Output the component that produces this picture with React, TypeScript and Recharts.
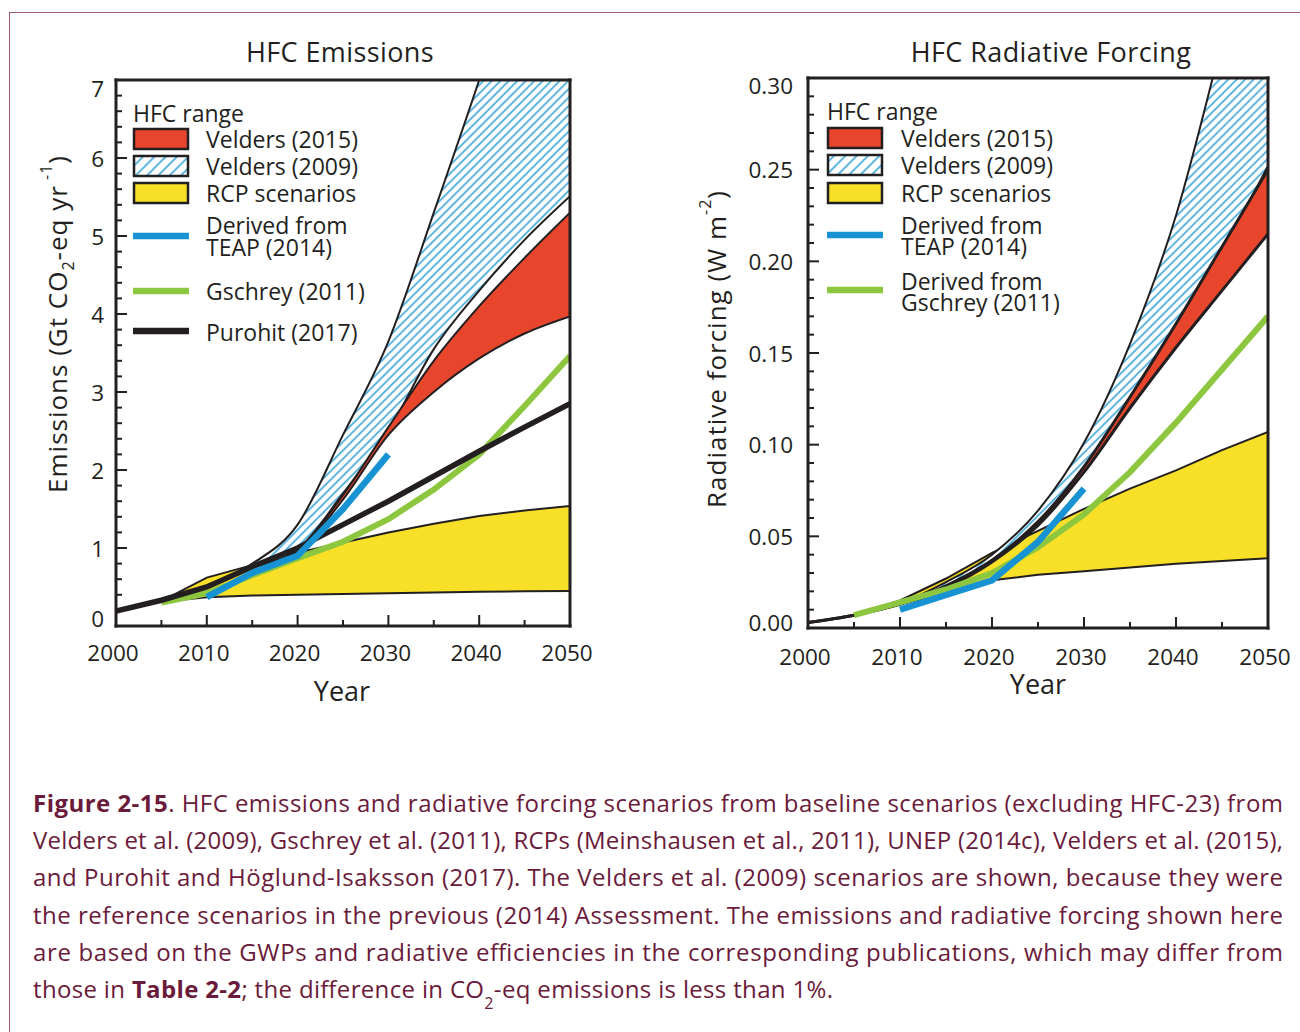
import React from 'react';
import { ComposedChart, Area, Line, XAxis, YAxis } from 'recharts';

const FONT = '"Open Sans", "Noto Sans", "DejaVu Sans", sans-serif';
const INK = '#231f20';
const RED = '#e8462c';
const YELLOW = '#f8df28';
const BLUE = '#1793d4';
const GREEN = '#8dc63f';
const HATCH = '#1b97d5';
const FRAME = '#9d5a72';
const CAPTION = '#6a1a3a';

// ---------- HFC Emissions (Gt CO2-eq / yr) ----------
const emRcpYears = [2005, 2010, 2015, 2020, 2025, 2030, 2035, 2040, 2045, 2050];
const emRcpLow = [0.31, 0.37, 0.39, 0.4, 0.41, 0.42, 0.43, 0.44, 0.445, 0.45];
const emRcpHigh = [0.32, 0.62, 0.78, 0.94, 1.07, 1.2, 1.31, 1.41, 1.48, 1.54];

const emV09Years = [2010, 2015, 2020, 2025, 2030, 2035, 2040, 2045, 2050];
const emV09Low = [0.52, 0.75, 0.98, 1.7, 2.5, 3.55, 4.3, 4.95, 5.51];
const emV09High = [0.52, 0.8, 1.3, 2.45, 3.65, 5.3, 7.0, 8.8, 10.6];

const emV15Years = [2015, 2020, 2025, 2030, 2035, 2040, 2045, 2050];
const emV15Low = [0.76, 0.96, 1.62, 2.45, 3.0, 3.43, 3.75, 3.97];
const emV15High = [0.76, 0.97, 1.68, 2.55, 3.4, 4.1, 4.72, 5.3];

const emTeapYears = [2010, 2015, 2020, 2025, 2030];
const emTeap = [0.37, 0.68, 0.9, 1.5, 2.2];

const emGschreyYears = [2005, 2010, 2015, 2020, 2025, 2030, 2035, 2040, 2045, 2050];
const emGschrey = [0.3, 0.42, 0.65, 0.87, 1.08, 1.37, 1.75, 2.2, 2.82, 3.46];

const emPurohitYears = [2000, 2005, 2010, 2015, 2020, 2025, 2030, 2035, 2040, 2045, 2050];
const emPurohit = [0.19, 0.33, 0.5, 0.76, 1.0, 1.3, 1.6, 1.92, 2.24, 2.55, 2.85];

const emYLabels = [0, 1, 2, 3, 4, 5, 6, 7];

// ---------- HFC Radiative Forcing (W m-2) ----------
const rfYears = [2000, 2005, 2010, 2015, 2020, 2025, 2030, 2035, 2040, 2045, 2050];
const rfRcpYears = [2005, 2010, 2015, 2020, 2025, 2030, 2035, 2040, 2045, 2050];
const rfRcpLow = [0.007, 0.013, 0.019, 0.026, 0.029, 0.031, 0.033, 0.035, 0.0365, 0.038];
const rfRcpHigh = [0.007, 0.015, 0.027, 0.041, 0.053, 0.065, 0.076, 0.086, 0.097, 0.107];
const rfV09Low = [0.003, 0.007, 0.013, 0.023, 0.037, 0.057, 0.085, 0.123, 0.163, 0.205, 0.252];
const rfV09High = [0.003, 0.007, 0.0135, 0.025, 0.04, 0.064, 0.101, 0.155, 0.225, 0.32, 0.42];
const rfV15Low = [0.003, 0.007, 0.013, 0.022, 0.036, 0.056, 0.085, 0.12, 0.153, 0.184, 0.215];
const rfV15High = [0.003, 0.007, 0.013, 0.023, 0.037, 0.058, 0.088, 0.126, 0.166, 0.208, 0.25];
const rfTeapYears = [2010, 2015, 2020, 2025, 2030];
const rfTeap = [0.01, 0.018, 0.026, 0.047, 0.076];
const rfGschreyYears = [2005, 2010, 2015, 2020, 2025, 2030, 2035, 2040, 2045, 2050];
const rfGschrey = [0.007, 0.014, 0.021, 0.03, 0.044, 0.062, 0.085, 0.112, 0.141, 0.17];

const rfYLabels = ['0.00', '0.05', '0.10', '0.15', '0.20', '0.25', '0.30'];

// ---------- helpers ----------
const rangeRows = (years: number[], lo: number[], hi: number[]) =>
  years.map((year, i) => ({ year, r: [lo[i], hi[i]] }));
const valueRows = (years: number[], v: number[]) => years.map((year, i) => ({ year, v: v[i] }));

const stepTicks = (n: number, step: number, start = 0) => {
  const out: number[] = [];
  for (let i = 0; i <= n; i++) out.push(Math.round((start + i * step) * 10000) / 10000);
  return out;
};
const xTicks = stepTicks(10, 5, 2000);
const near = (a: number, b: number) => Math.abs(a - b) < 1e-6;

type Side = 'bottom' | 'top' | 'left' | 'right';
function makeTick(
  side: Side,
  isMajor: (v: number) => boolean,
  label?: (v: number) => string,
  offset = 0,
  shift: (v: number) => number = () => 0
) {
  return (props: any) => {
    const { x, y, payload } = props;
    const v = payload.value as number;
    const major = isMajor(v);
    const len = major ? 11 : 6;
    let l = { x1: x, x2: x, y1: y, y2: y };
    if (side === 'bottom') l = { x1: x, x2: x, y1: y, y2: y - len };
    if (side === 'top') l = { x1: x, x2: x, y1: y, y2: y + len };
    if (side === 'left') l = { x1: x, x2: x + len, y1: y, y2: y };
    if (side === 'right') l = { x1: x, x2: x - len, y1: y, y2: y };
    let t: any = null;
    if (major && label) {
      if (side === 'bottom') {
        t = (
          <text x={x - 3} y={y + offset} textAnchor="middle" dominantBaseline="central" fontFamily={FONT} fontSize={22.5} fill={INK}>
            {label(v)}
          </text>
        );
      } else if (side === 'left') {
        t = (
          <text x={x - offset} y={y + shift(v)} textAnchor="end" dominantBaseline="central" fontFamily={FONT} fontSize={22.5} fill={INK}>
            {label(v)}
          </text>
        );
      }
    }
    return (
      <g>
        <line {...l} stroke={INK} strokeWidth={2} />
        {t}
      </g>
    );
  };
}

const axisLine = { stroke: INK, strokeWidth: 3, strokeLinecap: 'square' } as any;
const isYearMajor = (v: number) => v % 10 === 0;

const Hatch = ({ id }: { id: string }) => (
  <pattern id={id} patternUnits="userSpaceOnUse" width="6" height="6" patternTransform="rotate(45)">
    <rect width="6" height="6" fill="#ffffff" />
    <line x1="3" y1="0" x2="3" y2="6" stroke={HATCH} strokeWidth="1.4" />
  </pattern>
);

// ---------- Emissions chart ----------
const emYTicks = stepTicks(35, 0.2);
const emIsMajor = (v: number) => near(v, Math.round(v));
const emLabel = (v: number) => String(emYLabels[Math.round(v)]);

function EmissionsChart() {
  return (
    <ComposedChart width={650} height={700} margin={{ top: 79, right: 79, bottom: 14, left: 56 }}>
      <defs>
        <Hatch id="hatchEm" />
      </defs>
      <XAxis xAxisId="b" dataKey="year" type="number" domain={[2000, 2050]} ticks={xTicks} interval={0}
        tickSize={0} tickMargin={0} height={60} axisLine={axisLine} tickLine={false} allowDataOverflow
        tick={makeTick('bottom', isYearMajor, (v) => String(v), 26)} />
      <XAxis xAxisId="t" orientation="top" type="number" domain={[2000, 2050]} ticks={xTicks} interval={0}
        tickSize={0} tickMargin={0} height={1} axisLine={axisLine} tickLine={false}
        tick={makeTick('top', isYearMajor)} />
      <YAxis yAxisId="l" type="number" domain={[0, 7]} ticks={emYTicks} interval={0} width={60}
        tickSize={0} tickMargin={0} axisLine={axisLine} tickLine={false} allowDataOverflow
        tick={makeTick('left', emIsMajor, emLabel, 12, (v) => (near(v, 7) ? 8 : near(v, 0) ? -8 : 0))} />
      <YAxis yAxisId="r" orientation="right" type="number" domain={[0, 7]} ticks={emYTicks} interval={0} width={1}
        tickSize={0} tickMargin={0} axisLine={axisLine} tickLine={false}
        tick={makeTick('right', emIsMajor)} />

      <Area xAxisId="b" yAxisId="l" data={rangeRows(emRcpYears, emRcpLow, emRcpHigh)} dataKey="r" type="linear"
        fill={YELLOW} fillOpacity={1} stroke={INK} strokeWidth={2} isAnimationActive={false} dot={false} activeDot={false} />
      <Area xAxisId="b" yAxisId="l" data={rangeRows(emV09Years, emV09Low, emV09High)} dataKey="r" type="monotone"
        fill="url(#hatchEm)" fillOpacity={1} stroke={INK} strokeWidth={2} isAnimationActive={false} dot={false} activeDot={false} />
      <Area xAxisId="b" yAxisId="l" data={rangeRows(emV15Years, emV15Low, emV15High)} dataKey="r" type="monotone"
        fill={RED} fillOpacity={1} stroke={INK} strokeWidth={2} isAnimationActive={false} dot={false} activeDot={false} />
      <Line xAxisId="b" yAxisId="l" data={valueRows(emGschreyYears, emGschrey)} dataKey="v" type="linear"
        stroke={GREEN} strokeWidth={6} dot={false} activeDot={false} isAnimationActive={false} />
      <Line xAxisId="b" yAxisId="l" data={valueRows(emPurohitYears, emPurohit)} dataKey="v" type="linear"
        stroke={INK} strokeWidth={5.5} dot={false} activeDot={false} isAnimationActive={false} />
      <Line xAxisId="b" yAxisId="l" data={valueRows(emTeapYears, emTeap)} dataKey="v" type="linear"
        stroke={BLUE} strokeWidth={6.5} dot={false} activeDot={false} isAnimationActive={false} />
    </ComposedChart>
  );
}

// ---------- Forcing chart ----------
const rfYTicks = stepTicks(30, 0.01);
const rfIsMajor = (v: number) => near(v * 20, Math.round(v * 20));
const rfLabel = (v: number) => rfYLabels[Math.round(v * 20)];

function ForcingChart() {
  return (
    <ComposedChart width={650} height={700} margin={{ top: 77, right: 31, bottom: 12, left: 98 }}>
      <defs>
        <Hatch id="hatchRf" />
      </defs>
      <XAxis xAxisId="b" dataKey="year" type="number" domain={[2000, 2050]} ticks={xTicks} interval={0}
        tickSize={0} tickMargin={0} height={60} axisLine={axisLine} tickLine={false} allowDataOverflow
        tick={makeTick('bottom', isYearMajor, (v) => String(v), 28)} />
      <XAxis xAxisId="t" orientation="top" type="number" domain={[2000, 2050]} ticks={xTicks} interval={0}
        tickSize={0} tickMargin={0} height={1} axisLine={axisLine} tickLine={false}
        tick={makeTick('top', isYearMajor)} />
      <YAxis yAxisId="l" type="number" domain={[0, 0.3]} ticks={rfYTicks} interval={0} width={60}
        tickSize={0} tickMargin={0} axisLine={axisLine} tickLine={false} allowDataOverflow
        tick={makeTick('left', rfIsMajor, rfLabel, 15, (v) => (near(v, 0.3) ? 7 : near(v, 0) ? -6 : 0))} />
      <YAxis yAxisId="r" orientation="right" type="number" domain={[0, 0.3]} ticks={rfYTicks} interval={0} width={1}
        tickSize={0} tickMargin={0} axisLine={axisLine} tickLine={false}
        tick={makeTick('right', rfIsMajor)} />

      <Area xAxisId="b" yAxisId="l" data={rangeRows(rfRcpYears, rfRcpLow, rfRcpHigh)} dataKey="r" type="linear"
        fill={YELLOW} fillOpacity={1} stroke={INK} strokeWidth={2} isAnimationActive={false} dot={false} activeDot={false} />
      <Area xAxisId="b" yAxisId="l" data={rangeRows(rfYears, rfV09Low, rfV09High)} dataKey="r" type="monotone"
        fill="url(#hatchRf)" fillOpacity={1} stroke={INK} strokeWidth={2} isAnimationActive={false} dot={false} activeDot={false} />
      <Area xAxisId="b" yAxisId="l" data={rangeRows(rfYears, rfV15Low, rfV15High)} dataKey="r" type="monotone"
        fill={RED} fillOpacity={1} stroke={INK} strokeWidth={3} isAnimationActive={false} dot={false} activeDot={false} />
      <Line xAxisId="b" yAxisId="l" data={valueRows(rfGschreyYears, rfGschrey)} dataKey="v" type="linear"
        stroke={GREEN} strokeWidth={6} dot={false} activeDot={false} isAnimationActive={false} />
      <Line xAxisId="b" yAxisId="l" data={valueRows(rfTeapYears, rfTeap)} dataKey="v" type="linear"
        stroke={BLUE} strokeWidth={6.5} dot={false} activeDot={false} isAnimationActive={false} />
    </ComposedChart>
  );
}

// ---------- overlay texts ----------
const T = (p: any) => (
  <text dominantBaseline="central" fontFamily={FONT} fill={INK} fontSize={23} {...p} />
);

function Legend({ x, tx, rows }: { x: number; tx: number; rows: any }) {
  return (
    <g>
      <T x={x} y={rows.title}>HFC range</T>
      <rect x={x + 1} y={rows.red - 10} width={54} height={20} fill={RED} stroke={INK} strokeWidth={2.5} />
      <rect x={x + 1} y={rows.hatch - 10} width={54} height={20} fill="url(#hatchLegend)" stroke={INK} strokeWidth={2.5} />
      <rect x={x + 1} y={rows.yellow - 10} width={54} height={20} fill={YELLOW} stroke={INK} strokeWidth={2.5} />
      <T x={tx} y={rows.red}>Velders (2015)</T>
      <T x={tx} y={rows.hatch}>Velders (2009)</T>
      <T x={tx} y={rows.yellow}>RCP scenarios</T>
      {rows.lines.map((ln: any, i: number) => (
        <g key={i}>
          <line x1={x} x2={x + 56} y1={ln.y} y2={ln.y} stroke={ln.color} strokeWidth={6.5} />
          {ln.text.map((s: string, j: number) => (
            <T key={j} x={tx} y={ln.ty[j]}>{s}</T>
          ))}
        </g>
      ))}
    </g>
  );
}

const legendLeft = {
  title: 113, red: 139, hatch: 166, yellow: 193,
  lines: [
    { y: 236, color: BLUE, text: ['Derived from', 'TEAP (2014)'], ty: [225, 247] },
    { y: 291, color: GREEN, text: ['Gschrey (2011)'], ty: [291] },
    { y: 331, color: INK, text: ['Purohit (2017)'], ty: [332] },
  ],
};
const legendRight = {
  title: 111, red: 138, hatch: 165, yellow: 193,
  lines: [
    { y: 235, color: BLUE, text: ['Derived from', 'TEAP (2014)'], ty: [225, 246] },
    { y: 290, color: GREEN, text: ['Derived from', 'Gschrey (2011)'], ty: [281, 302] },
  ],
};

function Overlay() {
  return (
    <svg width={1300} height={1032} style={{ position: 'absolute', left: 0, top: 0, pointerEvents: 'none' }}>
      <defs>
        <pattern id="hatchLegend" patternUnits="userSpaceOnUse" width="8" height="8" patternTransform="rotate(45)">
          <rect width="8" height="8" fill="#ffffff" />
          <line x1="4" y1="0" x2="4" y2="8" stroke={HATCH} strokeWidth="1.4" />
        </pattern>
      </defs>
      <T x={340} y={51} textAnchor="middle" fontSize={27} letterSpacing={0.4}>HFC Emissions</T>
      <T x={1051} y={51} textAnchor="middle" fontSize={27} letterSpacing={0.4}>HFC Radiative Forcing</T>
      <T x={342} y={690} textAnchor="middle" fontSize={27}>Year</T>
      <T x={1038} y={683} textAnchor="middle" fontSize={27}>Year</T>
      <text x={0} y={0} transform="translate(57 324) rotate(-90)" textAnchor="middle" dominantBaseline="central"
        fontFamily={FONT} fontSize={26} letterSpacing={1} fill={INK}>
        Emissions (Gt CO<tspan baselineShift="sub" fontSize={16}>2</tspan>-eq yr
        <tspan baselineShift="super" fontSize={16}> -1</tspan>)
      </text>
      <text x={0} y={0} transform="translate(716 349) rotate(-90)" textAnchor="middle" dominantBaseline="central"
        fontFamily={FONT} fontSize={26} letterSpacing={1} fill={INK}>
        Radiative forcing (W m<tspan baselineShift="super" fontSize={16}>-2</tspan>)
      </text>
      <Legend x={133} tx={206} rows={legendLeft} />
      <Legend x={827} tx={901} rows={legendRight} />

      <g fontFamily={FONT} fontSize={24} fill={CAPTION}>
        <text x={33} y={812} textLength={1250} lengthAdjust="spacing">
          <tspan fontWeight={700}>Figure 2-15</tspan>. HFC emissions and radiative forcing scenarios from baseline scenarios (excluding HFC-23) from
        </text>
        <text x={33} y={849} textLength={1250} lengthAdjust="spacing">
          Velders et al. (2009), Gschrey et al. (2011), RCPs (Meinshausen et al., 2011), UNEP (2014c), Velders et al. (2015),
        </text>
        <text x={33} y={886} textLength={1250} lengthAdjust="spacing">
          and Purohit and Höglund-Isaksson (2017). The Velders et al. (2009) scenarios are shown, because they were
        </text>
        <text x={33} y={924} textLength={1250} lengthAdjust="spacing">
          the reference scenarios in the previous (2014) Assessment. The emissions and radiative forcing shown here
        </text>
        <text x={33} y={961} textLength={1250} lengthAdjust="spacing">
          are based on the GWPs and radiative efficiencies in the corresponding publications, which may differ from
        </text>
        <text x={33} y={998} textLength={800} lengthAdjust="spacing">
          those in <tspan fontWeight={700}>Table 2-2</tspan>; the difference in CO<tspan baselineShift="sub" fontSize={16}>2</tspan>-eq emissions is less than 1%.
        </text>
      </g>
    </svg>
  );
}

export default function App() {
  return (
    <div style={{ position: 'absolute', left: 0, top: 0, width: 1300, height: 1032, overflow: 'hidden', background: '#ffffff' }}>
      <div style={{ position: 'absolute', left: 9, top: 12, width: 1400, height: 1100, border: `1.5px solid ${FRAME}` }} />
      <div style={{ position: 'absolute', left: 0, top: 0 }}>
        <EmissionsChart />
      </div>
      <div style={{ position: 'absolute', left: 650, top: 0 }}>
        <ForcingChart />
      </div>
      <Overlay />
    </div>
  );
}
